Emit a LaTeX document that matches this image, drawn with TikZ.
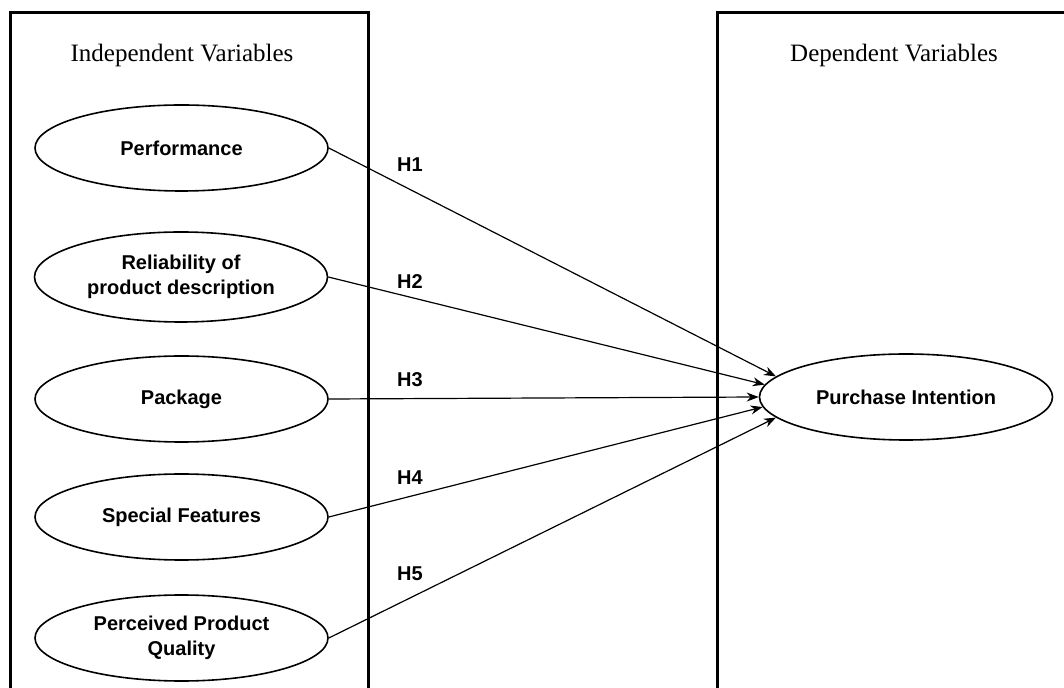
\documentclass[tikz,border=0pt]{standalone}
\usepackage{fontspec}
\setmainfont{Liberation Serif}
\setsansfont{Liberation Sans}
\usetikzlibrary{shapes.geometric, arrows.meta}
\tikzset{>={Stealth[length=6pt, width=4.5pt]}}

\begin{document}
\begin{tikzpicture}[x=0.5pt, y=-0.5pt,
    var/.style={draw, ellipse, line width=0.8pt, minimum width=146.5pt, minimum height=43pt, inner sep=0pt, align=center, font=\sffamily\bfseries\fontsize{10}{12.5}\selectfont},
    hyp/.style={font=\sffamily\bfseries\fontsize{10}{12.5}\selectfont},
    heading/.style={font=\fontsize{12.5}{15}\selectfont}]
    \clip (0,0) rectangle (1064,688);
    \draw[line width=1.5pt] (10,700) -- (10,13) -- (368,13) -- (368,700);
    \draw[line width=1.5pt] (717,700) -- (717,13) -- (1075,13);
    \node[heading] (indep) at (182,55) {Independent Variables};
    \node[heading] (dep) at (894,55) {Dependent Variables};
    \node[var] (perf) at (181.5,148) {Performance};
    \node[var, minimum height=45pt] (relia) at (181,277) {Reliability of\\product description};
    \node[var] (pack) at (181.5,399) {Package};
    \node[var] (spec) at (181.5,517) {Special Features};
    \node[var] (qual) at (181.5,638) {Perceived Product\\Quality};
    \node[var] (purch) at (906,397) {Purchase Intention};
    \draw[->, line width=0.6pt] (perf.east) -- (purch.171);
    \draw[->, line width=0.6pt] (relia.east) -- (purch.175.5);
    \draw[->, line width=0.6pt] (pack.east) -- (purch.west);
    \draw[->, line width=0.6pt] (spec.east) -- (purch.184.5);
    \draw[->, line width=0.6pt] (qual.east) -- (purch.189);
    \node[hyp] (h1) at (410,165) {H1};
    \node[hyp] (h2) at (410,282) {H2};
    \node[hyp] (h3) at (410,380) {H3};
    \node[hyp] (h4) at (410,478) {H4};
    \node[hyp] (h5) at (410,574) {H5};
\end{tikzpicture}
\end{document}
